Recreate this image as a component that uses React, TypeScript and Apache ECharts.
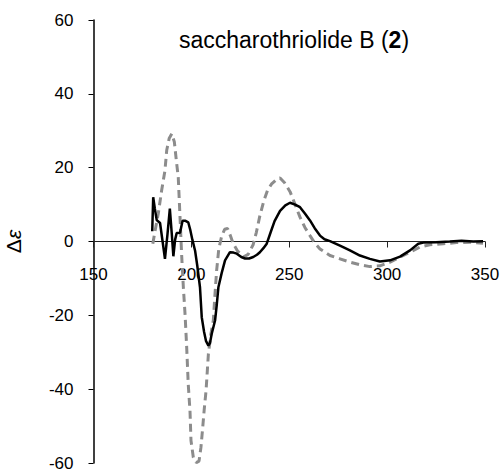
import React, { useEffect, useRef } from "react";
import * as echarts from "echarts";

const xTicks = { min: 150, max: 350, interval: 50 };
const yTicks = { min: -60, max: 60, interval: 20 };

const titleText = "saccharothriolide B ({b|2})";
const yName = "Δ{i|ε}";

// compound 2 experimental (black solid)
const expWave = [
  180.0, 180.5, 181.3, 182.3, 184.0, 185.3, 186.5, 187.8, 189.0, 190.0, 190.8, 191.7, 192.5, 194.2,
  195.5, 197.0, 198.4, 199.5, 200.5, 201.9, 203.0, 204.4, 205.3, 206.5, 207.5, 208.7, 209.5, 210.4,
  212.1, 213.0, 213.8, 215.5, 217.2, 219.7, 221.5, 223.2, 225.5, 227.4, 229.5, 231.6, 233.5, 235.0,
  236.8, 238.5, 240.5, 242.5, 245.3, 248.0, 250.4, 253.0, 255.5, 258.0, 260.6, 263.0, 265.7, 268.0,
  270.8, 275.9, 281.0, 286.1, 291.2, 296.3, 301.5, 306.6, 311.7, 315.9, 318.5, 325.0, 332.0, 338.0,
  344.0, 349.0,
];
const expDeps = [
  2.8, 12.0, 9.0, 5.8, 5.0, 0.0, -4.7, 2.0, 8.9, 2.0, -4.0, 0.5, 2.3, 2.4,
  5.6, 5.6, 5.2, 3.0, 0.5, -2.5, -6.5, -12.4, -20.5, -24.5, -27.0, -28.2, -27.5, -25.0,
  -21.4, -17.0, -12.4, -8.5, -5.1, -2.9, -3.0, -3.3, -4.2, -4.6, -4.6, -4.2, -3.6, -2.9,
  -1.8, -0.6, 2.5, 5.5, 8.3, 9.8, 10.5, 10.0, 9.3, 7.6, 5.7, 3.6, 1.6, 0.6,
  0.1, -1.1, -2.4, -3.8, -4.7, -5.4, -5.1, -4.1, -2.4, -0.6, -0.3, -0.2, 0.0, 0.2,
  0.0, 0.1,
];

// calculated (gray dashed)
const calcWave = [
  180.3, 181.5, 183.1, 184.8, 186.5, 187.4, 188.7, 190.0, 191.3, 192.3, 193.3, 194.2, 195.0, 195.9,
  196.8, 197.6, 198.4, 199.3, 199.8, 201.0, 202.5, 203.9, 204.9, 205.8, 206.6, 207.5, 208.7, 210.0,
  211.2, 212.1, 212.9, 214.0, 215.5, 217.0, 218.5, 220.0, 221.4, 223.5, 226.5, 229.0, 231.6, 233.2,
  235.0, 237.0, 239.0, 241.0, 243.5, 245.3, 247.5, 250.4, 253.0, 255.5, 258.0, 260.6, 263.0, 265.7,
  270.8, 275.9, 281.0, 286.1, 291.2, 296.3, 301.5, 306.6, 311.7, 316.8, 321.8, 328.7, 335.5, 342.3,
  349.0,
];
const calcDeps = [
  -0.6, 3.0, 7.6, 13.8, 19.2, 24.7, 28.0, 29.2, 27.0, 22.0, 17.4, 6.6, -3.3, -12.4,
  -20.0, -28.6, -38.6, -46.0, -53.9, -58.5, -59.9, -59.5, -55.7, -50.3, -45.3, -40.4, -30.4, -25.0,
  -21.4, -14.0, -7.9, -2.0, 1.5, 3.3, 3.5, 1.5, -0.6, -2.5, -4.2, -3.5, -0.8, 2.5,
  7.0, 11.0, 14.0, 15.6, 16.8, 17.2, 16.0, 13.5, 10.0, 6.6, 3.8, 1.6, -0.4, -2.0,
  -3.8, -4.7, -5.6, -6.3, -6.8, -6.6, -5.6, -4.2, -2.9, -1.5, -0.9, -0.6, -0.3, -0.2,
  -0.5,
];

const FONT = "Arial, 'Liberation Sans', sans-serif";
const GRID = { left: 93.5, right: 16, top: 20, bottom: 7 };
const H = 470;

export default function App() {
  const ref = useRef<HTMLDivElement>(null);
  useEffect(() => {
    if (!ref.current) return;
    const chart = echarts.init(ref.current, null, { renderer: "svg" });
    const expData = expWave.map((x, i) => [x, expDeps[i]]);
    const calcData = calcWave.map((x, i) => [x, calcDeps[i]]);
    // move the x axis (line, ticks and labels) up to y = 0
    const plotH = H - GRID.top - GRID.bottom;
    const zeroOffset = -plotH * ((0 - yTicks.min) / (yTicks.max - yTicks.min));
    chart.setOption({
      animation: false,
      backgroundColor: "#ffffff",
      grid: { ...GRID, containLabel: false, outerBoundsMode: "none" },
      xAxis: {
        type: "value",
        min: xTicks.min,
        max: xTicks.max,
        interval: xTicks.interval,
        position: "bottom",
        offset: zeroOffset,
        axisLine: { onZero: false, lineStyle: { color: "#222", width: 1 } },
        axisTick: { show: true, length: 6, lineStyle: { color: "#222", width: 1 } },
        axisLabel: { color: "#000", fontSize: 17, fontFamily: FONT, margin: 24, showMinLabel: true, showMaxLabel: true },
        splitLine: { show: false },
      },
      yAxis: {
        type: "value",
        min: yTicks.min,
        max: yTicks.max,
        interval: yTicks.interval,
        name: yName,
        nameLocation: "middle",
        nameGap: 70,
        nameRotate: 90,
        nameTextStyle: {
          color: "#000",
          fontSize: 21,
          fontFamily: FONT,
          rich: { i: { fontStyle: "italic", fontSize: 21, fontFamily: FONT, color: "#000" } },
        },
        axisLine: { show: true, onZero: false, lineStyle: { color: "#000", width: 1.5 } },
        axisTick: { show: true, length: 5, lineStyle: { color: "#000", width: 1 } },
        axisLabel: { color: "#000", fontSize: 17, fontFamily: FONT, margin: 20 },
        splitLine: { show: false },
      },
      graphic: [
        {
          type: "text",
          x: 294,
          y: 40,
          style: {
            text: titleText,
            fill: "#000",
            fontSize: 23,
            fontFamily: FONT,
            align: "center",
            verticalAlign: "middle",
            rich: { b: { fontWeight: "bold", fontSize: 23, fontFamily: FONT, fill: "#000" } },
          },
        },
      ],
      series: [
        {
          type: "line",
          data: calcData,
          showSymbol: false,
          symbol: "none",
          lineStyle: { color: "#8c8c8c", width: 3, type: [8, 5] },
          z: 2,
        },
        {
          type: "line",
          data: expData,
          showSymbol: false,
          symbol: "none",
          lineStyle: { color: "#000", width: 2.5 },
          z: 3,
        },
      ],
    });
    return () => chart.dispose();
  }, []);
  return <div ref={ref} style={{ position: "fixed", left: 0, top: 0, width: 501, height: H }} />;
}
